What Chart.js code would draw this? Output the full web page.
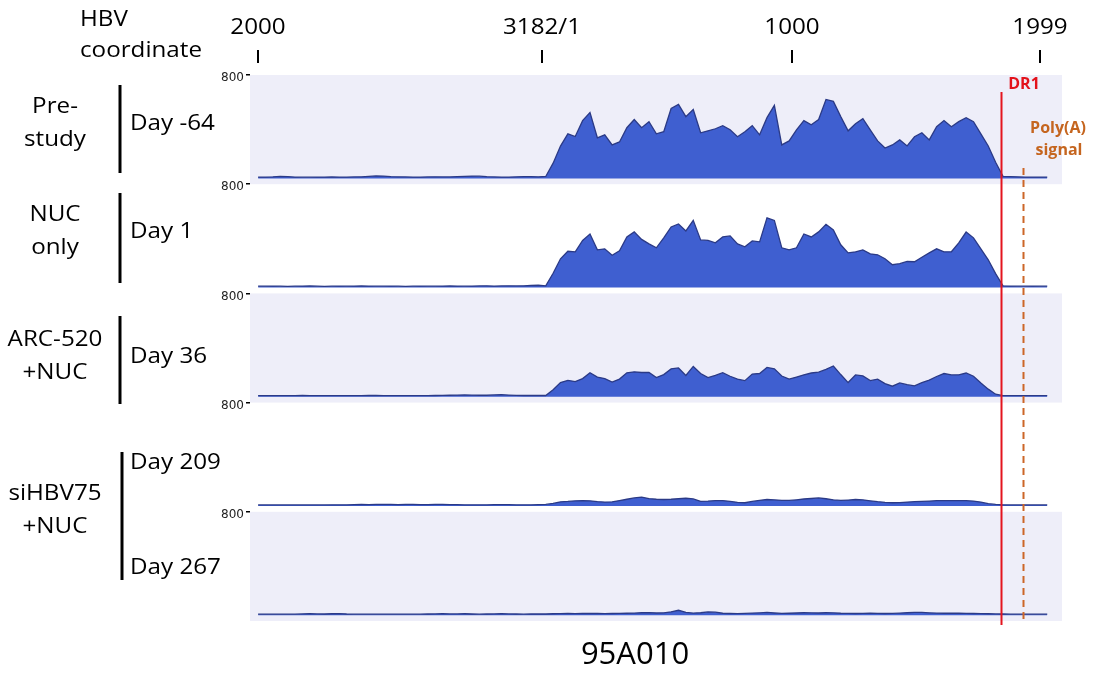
<!DOCTYPE html>
<html>
<head>
<meta charset="utf-8">
<title>95A010 HBV read coverage</title>
<script src="https://cdn.jsdelivr.net/npm/chart.js@4.4.0/dist/chart.umd.min.js"></script>
<style>
  html, body { margin: 0; padding: 0; background: #fff; }
  #wrap { position: relative; width: 1094px; height: 673px; }
</style>
</head>
<body>
<div id="wrap"><canvas id="coverage" width="1094" height="673"></canvas></div>
<script>
// coverage, one value per 30 bp bin, bin 0 = HBV nt 2000
const BIN_BP = 30;

const day64 = [10,10,12,16,14,10,9,9,10,10,11,10,10,11,12,16,19,18,14,12,11,10,10,11,12,11,11,13,16,18,17,13,11,10,10,12,14,14,12,
  15,118,250,345,324,447,510,314,337,259,282,392,455,392,439,345,361,541,572,478,533,353,368,384,408,376,322,361,408,337,470,
  565,259,290,376,447,415,455,611,596,478,368,423,462,376,290,235,259,298,251,322,353,298,400,447,400,439,470,439,345,251,125,16,
  14,12,10,10,10,10];

const day1 = [11,11,12,11,10,11,12,13,11,10,11,12,11,12,13,12,11,11,12,11,10,11,12,11,11,12,13,12,11,12,13,14,12,13,14,13,14,16,18,
  14,111,223,281,277,365,415,292,300,250,285,392,431,373,338,308,385,469,492,438,520,369,365,346,392,400,338,315,361,354,540,
  520,308,292,308,415,392,431,490,446,331,269,277,292,261,254,223,177,185,202,200,235,269,300,277,277,346,430,385,300,215,108,14,
  12,11,11,12,11,11];

const day36 = [9,9,9,9,9,9,10,9,9,9,9,9,9,9,9,10,10,9,9,9,9,9,9,9,10,11,12,13,14,13,12,12,14,16,13,11,10,10,10,
  10,55,110,127,118,141,186,153,141,114,137,186,193,188,188,149,172,216,223,165,235,180,149,165,186,159,137,125,176,180,227,
  216,161,137,153,170,184,190,212,238,172,110,169,161,125,137,102,82,107,94,84,110,129,157,180,169,170,184,159,106,59,20,9,
  9,9,9,9,9,9];

const day209 = [8,8,8,8,8,8,8,8,8,8,9,9,9,10,12,11,12,13,12,10,12,13,11,10,12,13,11,10,9,9,9,9,10,11,10,9,9,9,10,
  12,20,32,35,40,42,40,34,30,32,42,52,62,68,57,52,50,52,56,60,55,36,38,42,42,36,28,25,35,44,50,
  48,44,43,48,54,58,62,56,48,43,46,50,48,40,33,28,25,26,30,33,35,38,41,42,41,42,41,38,30,18,12,9,
  8,8,8,8,8,8];

const day267 = [8,8,8,8,8,8,10,12,10,9,11,12,9,8,8,8,8,8,8,8,8,8,8,9,10,11,10,10,11,9,8,9,10,11,10,9,8,9,10,
  9,11,12,13,12,13,14,13,12,13,14,15,16,19,20,17,18,26,38,22,16,19,25,23,15,13,12,14,16,18,21,
  17,14,15,17,19,18,17,19,18,15,14,13,14,15,14,13,14,16,19,22,21,18,16,15,16,15,14,13,12,11,10,9,
  8,8,8,8,8,8];

const tracks = [day64, day1, day36, day209, day267];
const dayLabels = ["Day -64", "Day 1", "Day 36", "Day 209", "Day 267"];
const groupLabels = [["Pre-", "study"], ["NUC", "only"], ["ARC-520", "+NUC"], ["siHBV75", "+NUC"]];

// HBV coordinate axis (positions in bp from nt 2000, as placed in the figure)
const coordTickPos = [0, 1155, 2172, 3181];
const coordTickLabels = ["2000", "3182/1", "1000", "1999"];
const dr1Pos = 3022;
const polyAPos = 3111;
const yMax = 800;

// layout of the hand-placed labels
const STRETCH = 1.1;
const LABEL_FONT = "22px 'Open Sans'";
const groupY = [[107, 140], [215, 248], [340, 373], [494, 527]];
const dayY = [124, 232, 357, 463, 568];
const barSpans = [[85, 173], [193, 283], [316, 404], [452, 580]];

const FILL = "#3f5fd0";
const EDGE = "#2b3a86";
const PANEL_BG = "#eeeef9";

function stretched(ctx, txt, x, y, sx, align) {
  ctx.save();
  ctx.translate(x, y);
  ctx.scale(sx, 1);
  ctx.textAlign = align;
  ctx.fillText(txt, 0, 0);
  ctx.restore();
}

const annotations = {
  id: "annotations",
  beforeDatasetsDraw(chart) {
    const ctx = chart.ctx, area = chart.chartArea;
    ctx.save();
    tracks.forEach((_, i) => {
      if (i % 2 === 0) {
        const s = chart.scales["y" + i];
        ctx.fillStyle = PANEL_BG;
        ctx.fillRect(area.left, s.top, area.right - area.left, s.bottom - s.top);
      }
    });
    ctx.restore();
  },
  afterDatasetsDraw(chart) {
    const ctx = chart.ctx, x = chart.scales.x;
    ctx.save();
    // DR1
    let px = Math.round(x.getPixelForValue(dr1Pos)) + 0.5;
    ctx.strokeStyle = "#e4141e";
    ctx.lineWidth = 2;
    ctx.beginPath(); ctx.moveTo(px, 92); ctx.lineTo(px, 625); ctx.stroke();
    // poly(A) signal
    px = Math.round(x.getPixelForValue(polyAPos)) + 0.5;
    ctx.strokeStyle = "#cc6628";
    ctx.setLineDash([7, 5]);
    ctx.beginPath(); ctx.moveTo(px, 168); ctx.lineTo(px, 620); ctx.stroke();
    ctx.restore();
  },
  afterDraw(chart) {
    const ctx = chart.ctx, x = chart.scales.x;
    ctx.save();
    ctx.fillStyle = "#000";
    ctx.textBaseline = "middle";
    ctx.font = LABEL_FONT;
    stretched(ctx, "HBV", 80, 20, STRETCH, "left");
    stretched(ctx, "coordinate", 80, 51, STRETCH, "left");

    ctx.strokeStyle = "#000";
    ctx.lineWidth = 2;
    coordTickPos.forEach((p, i) => {
      const px = Math.round(x.getPixelForValue(p));
      stretched(ctx, coordTickLabels[i], px, 28, STRETCH, "center");
      ctx.beginPath(); ctx.moveTo(px, 50); ctx.lineTo(px, 63); ctx.stroke();
    });

    groupLabels.forEach((lines, i) => {
      lines.forEach((t, j) => stretched(ctx, t, 55, groupY[i][j], STRETCH, "center"));
    });
    dayLabels.forEach((t, i) => stretched(ctx, t, 130, dayY[i], STRETCH, "left"));

    ctx.lineWidth = 3;
    barSpans.forEach((b, i) => {
      const bx = i === 3 ? 122 : 120;
      ctx.beginPath(); ctx.moveTo(bx, b[0]); ctx.lineTo(bx, b[1]); ctx.stroke();
    });

    ctx.font = "31px 'Open Sans'";
    ctx.textAlign = "center";
    ctx.fillText("95A010", 635, 655);

    ctx.font = "bold 16px 'Open Sans'";
    ctx.fillStyle = "#e3121b";
    ctx.fillText("DR1", 1024, 84);
    ctx.fillStyle = "#c5651f";
    ctx.fillText("Poly(A)", 1058, 128);
    ctx.fillText("signal", 1059, 150);
    ctx.restore();
  }
};

const scales = {
  x: { type: "linear", min: -33, max: 3270, display: false }
};
tracks.forEach((_, i) => {
  scales["y" + i] = {
    type: "linear",
    position: "left",
    stack: "tracks",
    stackWeight: 1,
    weight: tracks.length - i,
    min: -45,
    max: yMax,
    afterBuildTicks: s => { s.ticks = [{ value: yMax }]; },
    afterFit: s => { s.width = 250; },
    border: { display: false },
    grid: { drawOnChartArea: false, drawTicks: true, tickLength: 4, color: "#000", lineWidth: 1.5 },
    ticks: { font: { family: "'DejaVu Sans'", size: 12 }, color: "#222", padding: 2, labelOffset: 3 }
  };
});

new Chart(document.getElementById("coverage"), {
  type: "line",
  data: {
    datasets: tracks.map((vals, i) => ({
      label: dayLabels[i],
      data: vals.map((v, j) => ({ x: j * BIN_BP, y: v })),
      yAxisID: "y" + i,
      fill: "origin",
      backgroundColor: FILL,
      borderColor: EDGE,
      borderWidth: 1.3,
      pointRadius: 0,
      tension: 0
    }))
  },
  options: {
    responsive: false,
    animation: false,
    devicePixelRatio: 1,
    layout: { padding: { top: 75, right: 32, bottom: 52, left: 0 } },
    plugins: { legend: { display: false }, tooltip: { enabled: false } },
    scales: scales
  },
  plugins: [annotations]
});
</script>
</body>
</html>
